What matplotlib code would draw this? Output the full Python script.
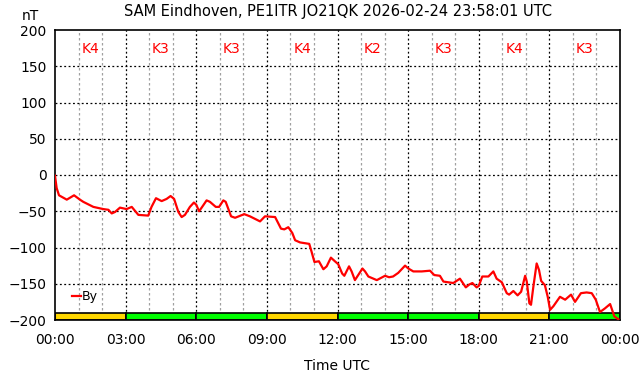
import matplotlib
matplotlib.use("Agg")
import matplotlib.pyplot as plt
import numpy as np

# By component (nT)
hours = [0.0, 0.07, 0.17, 0.5, 0.81, 1.06, 1.2, 1.63, 2.05, 2.27, 2.41, 2.55, 2.76,
         3.04, 3.26, 3.54, 3.96, 4.1, 4.29, 4.53, 4.74, 4.91, 5.06, 5.24, 5.38,
         5.52, 5.73, 5.9, 6.0, 6.12, 6.23, 6.44, 6.58, 6.83, 6.97, 7.15, 7.25,
         7.48, 7.65, 8.04, 8.28, 8.71, 8.92, 9.35, 9.6, 9.74, 9.91, 10.08, 10.2,
         10.41, 10.8, 10.9, 11.02, 11.21, 11.4, 11.54, 11.72, 11.89, 12.03, 12.2,
         12.29, 12.49, 12.6, 12.74, 12.88, 13.06, 13.17, 13.31, 13.67, 14.02,
         14.19, 14.36, 14.58, 14.87, 15.01, 15.22, 15.58, 15.93, 16.11, 16.35,
         16.5, 16.92, 17.2, 17.45, 17.6, 17.73, 17.91, 18.0, 18.15, 18.41, 18.62,
         18.76, 18.98, 19.19, 19.29, 19.47, 19.65, 19.8, 19.97, 20.04, 20.15,
         20.22, 20.32, 20.46, 20.56, 20.65, 20.81, 20.93, 21.03, 21.17, 21.45,
         21.67, 21.92, 22.09, 22.34, 22.58, 22.8, 22.97, 23.15, 23.36, 23.58,
         23.76, 23.93]
by_nt = [-1, -18, -28, -34, -28, -34, -37, -44, -47, -48, -53, -51, -45,
         -47, -44, -55, -56, -44, -32, -36, -33, -29, -33, -51, -58,
         -55, -44, -38, -41, -50, -45, -35, -37, -44, -44, -35, -37,
         -57, -59, -54, -57, -64, -57, -58, -74, -75, -72, -80, -90,
         -93, -95, -106, -120, -119, -130, -126, -114, -119, -123, -136,
         -139, -126, -133, -145, -138, -129, -133, -140, -145, -139,
         -141, -140, -135, -125, -129, -133, -133, -132, -138, -139,
         -147, -149, -143, -155, -151, -149, -155, -153, -140, -140, -133,
         -143, -148, -163, -165, -160, -166, -161, -139, -147, -177,
         -179, -154, -122, -131, -146, -152, -168, -186, -181, -168,
         -172, -165, -175, -163, -162, -163, -172, -189, -184, -178,
         -195, -199]

# 3-hour K index blocks
k_start = [0, 3, 6, 9, 12, 15, 18, 21]
k_index = [4, 3, 3, 4, 2, 3, 4, 3]

tick_hours = list(range(0, 25, 3))
tick_labels = ["00:00", "03:00", "06:00", "09:00", "12:00",
               "15:00", "18:00", "21:00", "00:00"]

fig = plt.figure(figsize=(6.42, 3.76), dpi=100)
ax = fig.add_axes([55 / 642, 1 - 320 / 376, 565 / 642, 290 / 376])

ax.set_xlim(0, 24)
ax.set_ylim(-200, 200)

# grid: gray dashed every hour, black dotted every 3 h / 50 nT
for h in range(1, 24):
    if h % 3:
        ax.axvline(h, color="#a0a0a0", lw=0.9, ls=(0, (2, 2)), zorder=1)
for h in range(3, 24, 3):
    ax.axvline(h, color="black", lw=0.9, ls=(0, (1.5, 2)), zorder=1)
for v in range(-150, 200, 50):
    ax.axhline(v, color="black", lw=0.9, ls=(0, (1.5, 2)), zorder=1)

# K index bars and labels
colors = ["#ffd700" if k >= 4 else "#00ff00" for k in k_index]
ax.bar(k_start, [9] * len(k_start), width=3, bottom=-200, align="edge",
       color=colors, edgecolor="black", linewidth=1.2, zorder=2)
for s, k in zip(k_start, k_index):
    ax.text(s + 1.5, 174, f"K{k}", color="red", ha="center", va="center",
            fontsize=10, zorder=3)

ax.plot(hours, by_nt, color="red", lw=1.6, label="By", zorder=4)

ax.set_xticks(tick_hours)
ax.set_xticklabels(tick_labels)
ax.set_yticks(range(-200, 201, 50))
ax.tick_params(direction="in", length=0, labelsize=10)
ax.tick_params(axis="x", pad=9)
ax.tick_params(axis="y", pad=6)
for sp in ax.spines.values():
    sp.set_linewidth(1.2)

ax.set_xlabel("Time UTC", fontsize=10, labelpad=9)
ax.set_title("SAM Eindhoven, PE1ITR JO21QK 2026-02-24 23:58:01 UTC",
             fontsize=10.5, pad=10)
fig.text(30 / 642, 1 - 16 / 376, "nT", ha="center", va="center", fontsize=10)

ax.legend(loc="lower left", bbox_to_anchor=(0.01, 0.02), frameon=False,
          handlelength=0.7, handletextpad=0.1, fontsize=9)

fig.savefig("out.png", dpi=100)
